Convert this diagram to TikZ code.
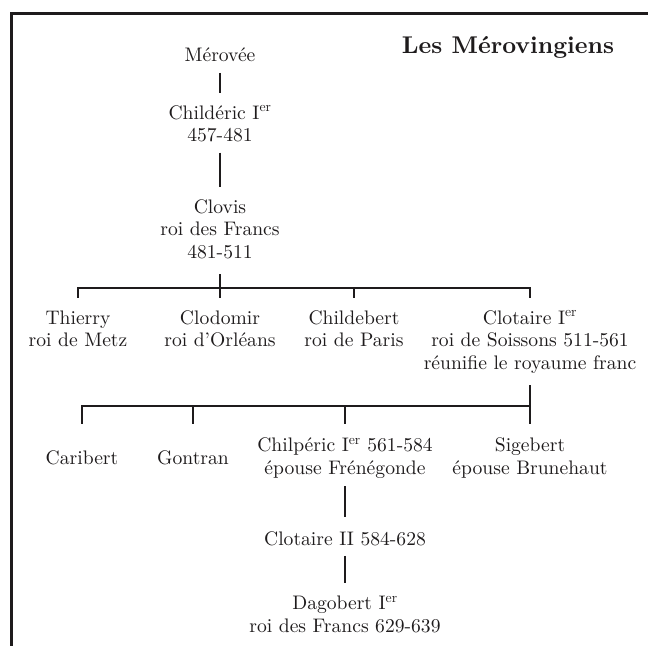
\documentclass[tikz,border=0pt]{standalone}
\usepackage{fontspec}
\setmainfont{lmroman10-regular}[Extension=.otf,BoldFont=lmroman10-bold]

\definecolor{ink}{RGB}{30,27,28}
\tikzstyle{frame}=[draw=ink,line width=2.7pt]
\tikzstyle{person}=[align=center,inner sep=0pt,text=ink,font=\fontsize{19.6}{22.5}\selectfont,execute at begin node=\strut,execute at end node=\strut]
\tikzstyle{son}=[person,minimum height=45pt]
\tikzstyle{heading}=[text=ink,font=\fontsize{24.2}{28}\selectfont\bfseries]
\tikzstyle{link}=[draw=ink,line width=2pt,shorten <=4pt,shorten >=12.5pt]
\tikzstyle{stem}=[draw=ink,line width=2pt,shorten <=9pt]
\tikzstyle{bar}=[draw=ink,line width=2pt,line cap=rect]
\tikzstyle{tick}=[draw=ink,line width=2pt,shorten >=12.5pt]
\newcommand{\mvunit}{1pt}

\begin{document}
\begin{tikzpicture}[x=\mvunit,y=-\mvunit]
    \useasboundingbox (0,0) rectangle (648,646);
    % First we draw the frame and the title
    \path[frame] (648,13.3) -- (11.7,13.3) -- (11.7,646);
    \node[heading,anchor=base] (title) at (508,53.3) {Les Mérovingiens};
    % Kings from father to son
    \foreach \pos/\name/\who in {{(220,57.3)/merovee/Mérovée},
            {(220,126.8)/childeric/Childéric I\textsuperscript{er}\\457-481},
            {(220,232.3)/clovis/Clovis\\roi des Francs\\481-511},
            {(345,540.5)/clotaireii/Clotaire II 584-628},
            {(345,617.5)/dagobert/Dagobert I\textsuperscript{er}\\roi des Francs 629-639}}
        \node[person] (\name) at \pos {\who};
    % The sons of Clovis
    \foreach \pos/\name/\who in {{(78,310.3)/thierry/Thierry\\roi de Metz},
            {(220,310.3)/clodomir/Clodomir\\roi d’Orléans},
            {(354,310.3)/childebert/Childebert\\roi de Paris},
            {(530,310.3)/clotaire/Clotaire I\textsuperscript{er}\\roi de Soissons 511-561\\réunifie le royaume franc}}
        \node[person,anchor=north] (\name) at \pos {\who};
    % The sons of Clotaire
    \foreach \pos/\name/\who in {{(82,459.5)/caribert/Caribert},
            {(193,459.5)/gontran/Gontran},
            {(345,459.5)/chilperic/Chilpéric I\textsuperscript{er} 561-584\\épouse Frénégonde},
            {(530,459.5)/sigebert/Sigebert\\épouse Brunehaut}}
        \node[son] (\name) at \pos {\who};
    % Connect father and son
    \foreach \source/\dest in {merovee/childeric,childeric/clovis,chilperic/clotaireii,clotaireii/dagobert}
        \path[link] (\source) -- (\dest);
    % Connect the brothers
    \coordinate (fork1) at (220,288);
    \coordinate (fork2) at (530,406);
    \path[stem] (clovis) -- (fork1);
    \path[stem] (clotaire) -- (fork2);
    \path[bar] (fork1 -| thierry) -- (fork1 -| clotaire);
    \path[bar] (fork2 -| caribert) -- (fork2 -| sigebert);
    \foreach \dest in {thierry,clodomir,childebert,clotaire}
        \path[tick] (fork1 -| \dest) -- (\dest.north);
    \foreach \dest in {caribert,gontran,chilperic,sigebert}
        \path[tick] (fork2 -| \dest) -- (\dest.north);
\end{tikzpicture}
\end{document}
